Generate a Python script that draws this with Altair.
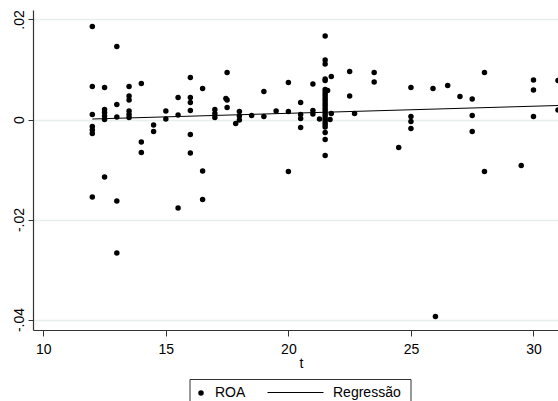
import altair as alt
import pandas as pd

# ---- data ----
t_vals = [
    12, 12, 12, 12, 12, 12, 12,
    12.5, 12.5, 12.5, 12.5, 12.5, 12.5,
    13, 13, 13, 13, 13,
    13.5, 13.5, 13.5, 13.5, 13.5, 13.5,
    14, 14, 14,
    14.5, 14.5,
    15, 15,
    15.5, 15.5, 15.5,
    16, 16, 16, 16, 16, 16,
    16.5, 16.5, 16.5,
    17, 17, 17,
    17.5, 17.45, 17.5, 17.5,
    18, 18, 18, 17.85,
    18.5,
    19, 19,
    19.5,
    20, 20, 20,
    20.5, 20.5, 20.5, 20.5,
    21, 21, 21,
    21.27,
    21.5, 21.5, 21.5, 21.5, 21.5, 21.5, 21.5, 21.5, 21.5, 21.5, 21.5, 21.5,
    21.5, 21.5, 21.5, 21.5, 21.5, 21.5, 21.5, 21.5, 21.5, 21.5, 21.5, 21.5,
    21.6,
    21.75, 21.75, 21.7,
    22.5, 22.5,
    22.7,
    23.5, 23.5,
    24.5,
    25, 25, 25, 25,
    25.9,
    26,
    26.5,
    27,
    27.5, 27.5, 27.5,
    28, 28,
    29.5,
    30, 30, 30,
    31, 31,
]
roa_vals = [
    0.0186, 0.0066, 0.0010, -0.0014, -0.0021, -0.0028, -0.0155,
    0.0064, 0.0020, 0.0014, 0.0007, 0.0000, -0.0115,
    0.0146, 0.0030, 0.0005, -0.0163, -0.0267,
    0.0066, 0.0047, 0.0039, 0.0017, 0.0010, 0.0004,
    0.0072, -0.0045, -0.0066,
    -0.0011, -0.0024,
    0.0017, 0.0001,
    0.0044, 0.0009, -0.0177,
    0.0084, 0.0044, 0.0034, 0.0018, -0.0030, -0.0067,
    0.0062, -0.0103, -0.0160,
    0.0020, 0.0012, 0.0004,
    0.0094, 0.0042, 0.0039, 0.0024,
    0.0016, 0.0007, -0.0001, -0.0008,
    0.0008,
    0.0056, 0.0006,
    0.0017,
    0.0074, 0.0016, -0.0104,
    0.0034, 0.0010, 0.0002, -0.0016,
    0.0071, 0.0018, 0.0011,
    0.0001,
    0.0167, 0.0119, 0.0111, 0.0081, 0.0078, 0.0060, 0.0055, 0.0050, 0.0045, 0.0040, 0.0035, 0.0030,
    0.0025, 0.0020, 0.0015, 0.0010, 0.0005, 0.0000, -0.0005, -0.0010, -0.0015, -0.0026, -0.0040, -0.0072,
    0.0058,
    0.0086, 0.0012, 0.0000,
    0.0096, 0.0047,
    0.0012,
    0.0094, 0.0075,
    -0.0056,
    0.0064, 0.0006, -0.0004, -0.0018,
    0.0062,
    -0.0394,
    0.0068,
    0.0046,
    0.0041, 0.0008, -0.0024,
    0.0094, -0.0104,
    -0.0092,
    0.0079, 0.0059, 0.0006,
    0.0078, 0.0019,
]
reg_t = [12, 31]
reg_roa = [0.0001, 0.0028]

x_ticks = [10, 15, 20, 25, 30]
y_ticks = [-0.04, -0.02, 0, 0.02]
y_tick_labels = ["-.04", "-.02", "0", ".02"]
legend_labels = ["ROA", "Regressão"]

FONT = "Liberation Sans"
AXIS_COLOR = "#333333"

pts = pd.DataFrame({"t": t_vals, "ROA": roa_vals, "s1": legend_labels[0]})
reg = pd.DataFrame({"t": reg_t, "ROA": reg_roa, "s2": legend_labels[1]})
box = pd.DataFrame({"k": [0]})

label_expr = " : ".join(
    f"abs(datum.value - ({v})) < 1e-9 ? '{lab}'" for v, lab in zip(y_ticks, y_tick_labels)
) + " : ''"

xscale = alt.Scale(domain=[9.58, 31.0], nice=False, zero=False)
yscale = alt.Scale(domain=[-0.0421, 0.0219], nice=False, zero=False)

xaxis = alt.Axis(
    values=x_ticks, title="t", grid=False, format="d",
    tickSize=6, tickColor=AXIS_COLOR, domainColor=AXIS_COLOR, domainWidth=1.2,
    labelFont=FONT, labelFontSize=14, labelColor="black",
    labelBaseline="alphabetic", labelPadding=17,
    titleFont=FONT, titleFontSize=14, titleFontWeight="normal", titleColor="black",
    titleX=268, titleY=37, titleBaseline="alphabetic", titleAlign="center",
)
yaxis = alt.Axis(
    values=y_ticks, title=None, labelExpr=label_expr,
    grid=True, gridColor="#e6eef0", gridWidth=1.5,
    tickSize=5, tickColor=AXIS_COLOR, domainColor=AXIS_COLOR, domainWidth=1.2,
    labelAngle=270, labelAlign="center", labelBaseline="alphabetic", labelPadding=5,
    labelFont=FONT, labelFontSize=14, labelColor="black",
)

points = alt.Chart(pts).mark_circle(size=30, opacity=1, clip=True).encode(
    x=alt.X("t:Q", scale=xscale, axis=xaxis),
    y=alt.Y("ROA:Q", scale=yscale, axis=yaxis),
    color=alt.Color(
        "s1:N",
        scale=alt.Scale(domain=[legend_labels[0]], range=["black"]),
        legend=alt.Legend(
            title=None, orient="none", legendX=161, legendY=376, padding=0,
            symbolType="circle", symbolSize=30, symbolFillColor="black", symbolStrokeWidth=0,
            labelFont=FONT, labelFontSize=14, labelColor="black", labelOffset=7,
        ),
    ),
)

line = alt.Chart(reg).mark_line(strokeWidth=1, clip=True).encode(
    x=alt.X("t:Q", scale=xscale),
    y=alt.Y("ROA:Q", scale=yscale),
    stroke=alt.Stroke(
        "s2:N",
        scale=alt.Scale(domain=[legend_labels[1]], range=["black"]),
        legend=alt.Legend(
            title=None, orient="none", legendX=234, legendY=354, padding=0,
            symbolType="stroke", symbolSize=3136, symbolStrokeWidth=1,
            labelFont=FONT, labelFontSize=14, labelColor="black", labelOffset=9,
        ),
    ),
)

border = alt.Chart(box).mark_rect(fill="white", fillOpacity=0, stroke=AXIS_COLOR, strokeWidth=1).encode(
    x=alt.value(157), x2=alt.value(378), y=alt.value(369.5), y2=alt.value(430),
)

chart = alt.layer(points, line, border).properties(
    width=525, height=320,
    autosize=alt.AutoSizeParams(type="none"),
    padding={"left": 33, "top": 10, "right": 0, "bottom": 71},
    background="white",
).configure_view(stroke=None)

chart.save("out.html", embed_options={"renderer": "svg", "actions": False})
